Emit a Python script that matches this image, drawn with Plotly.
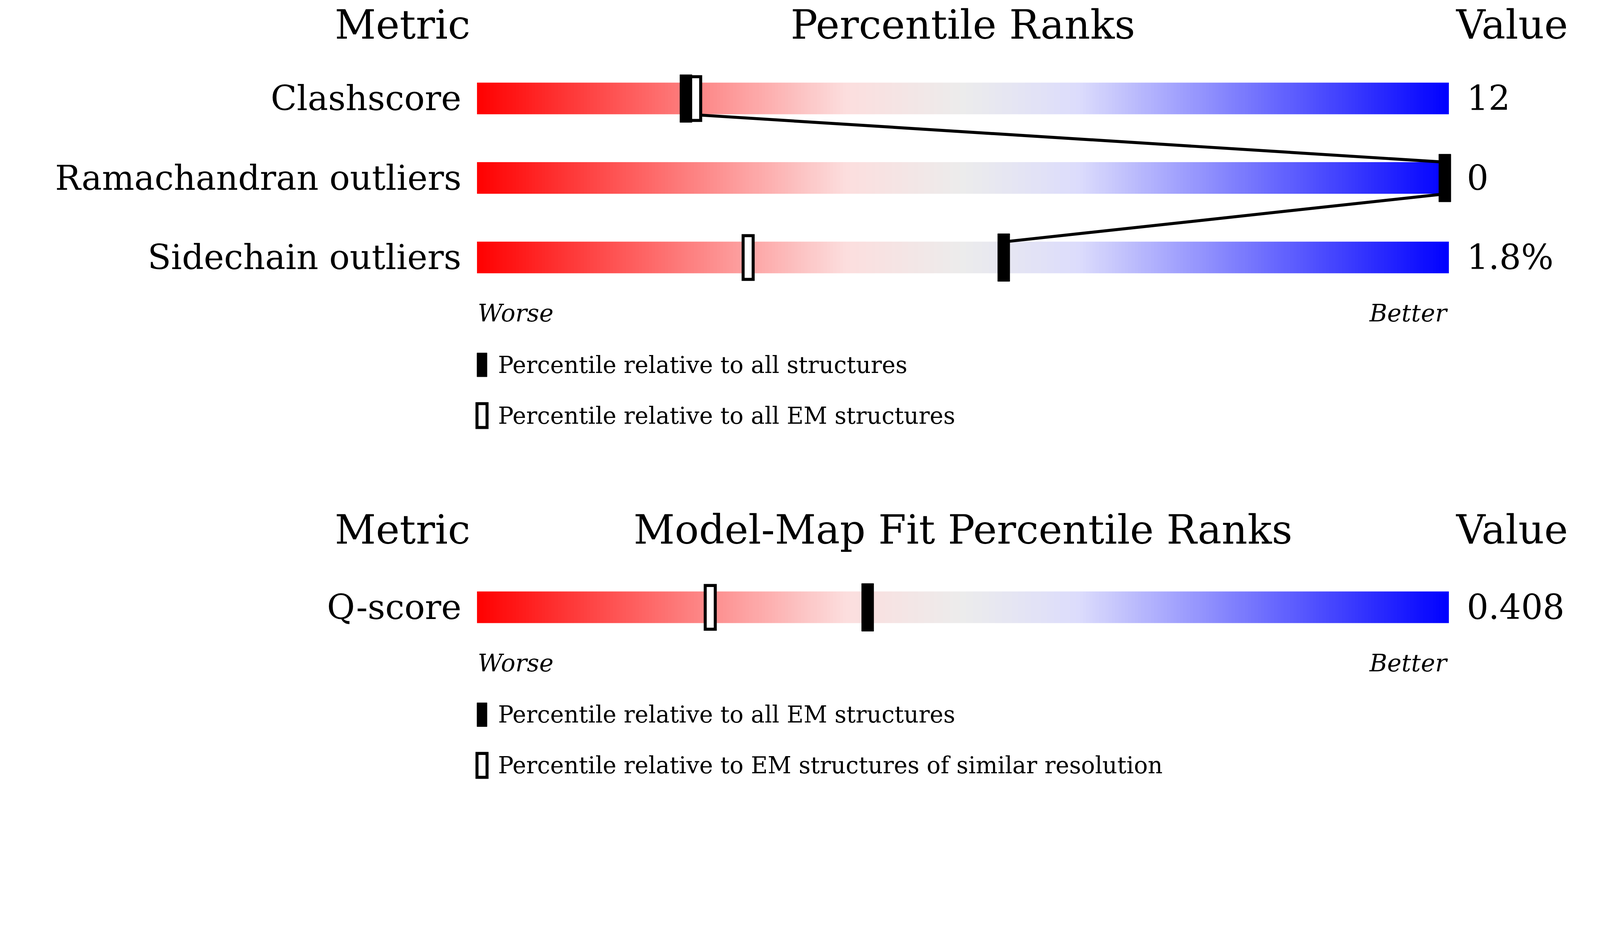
import numpy as np
import plotly.graph_objects as go

W, H = 4030, 1995
S = W/1568
metrics1 = ["Clashscore", "Ramachandran outliers", "Sidechain outliers"]
values1 = ["12", "0", "1.8%"]
pct_all1 = [21.5, 100, 54.2]
pct_em1 = [22.5, None, 27.9]
row_y1 = [96, 176, 256]

metrics2 = ["Q-score"]
values2 = ["0.408"]
pct_all2 = [40.2]
pct_em2 = [24.0]
row_y2 = [608]

legend1 = ["Percentile relative to all structures", "Percentile relative to all EM structures"]
legend2 = ["Percentile relative to all EM structures", "Percentile relative to EM structures of similar resolution"]

FONT = "DejaVu Serif"
cs = [[0, "rgb(255,0,0)"], [0.38, "rgb(252,222,222)"], [0.5, "rgb(236,236,236)"],
      [0.62, "rgb(220,220,252)"], [1, "rgb(0,0,255)"]]

fig = go.Figure()
xe = np.linspace(0, 100, 301)
zrow = [list((xe[:-1] + xe[1:]) / 2)]
shapes, ann = [], []
def txt(x, y, t, size, anchor="left", italic=False):
    ann.append(dict(x=x, y=y, xref="x", yref="y", text=t, showarrow=False, xanchor=anchor,
                    yanchor="middle", font=dict(family=FONT, size=size*S, color="black",
                                                style="italic" if italic else "normal")))
def u(px):  # display px -> x units
    return px / 968 * 100

for rows, names, vals, pa, pe, head, top, leg in [
    (row_y1, metrics1, values1, pct_all1, pct_em1, "Percentile Ranks", 22, legend1),
    (row_y2, metrics2, values2, pct_all2, pct_em2, "Model-Map Fit Percentile Ranks", 530, legend2)]:
    txt(u(-472+398), top, "Metric", 40, "center")
    txt(50, top, head, 40, "center")
    txt(u(1503-472), top, "Value", 40, "center")
    for y, n, v in zip(rows, names, vals):
        fig.add_trace(go.Heatmap(x=xe, y=[y-16, y+16], z=zrow, colorscale=cs, zmin=0, zmax=100,
                                 showscale=False, hoverinfo="skip"))
        txt(u(-15), y, n, 34, "right")
        txt(u(985), y, v, 34, "left")
    for y, p in zip(rows, pe):
        if p is not None:
            shapes.append(dict(type="rect", xref="x", yref="y", x0=p-u(5), x1=p+u(5), y0=y-22, y1=y+22,
                               fillcolor="white", line=dict(color="black", width=3*S)))
    for y, p in zip(rows, pa):
        x0, x1 = (p-u(6), p+u(6)) if p < 100 else (p-u(10), p+u(2))
        shapes.append(dict(type="rect", xref="x", yref="y", x0=x0, x1=x1,
                           y0=y-24, y1=y+24, fillcolor="black", line=dict(color="black", width=1)))
    if len(rows) > 1:
        fig.add_trace(go.Scatter(x=[pa[0]+u(4), pa[1]-u(4), pa[1]-u(4), pa[2]+u(2)],
                                 y=[rows[0]+16, rows[1]-16, rows[1]+16, rows[2]-16],
                                 mode="lines", line=dict(color="black", width=3*S), hoverinfo="skip"))
    yb = rows[-1] + 56
    txt(0, yb, "Worse", 24, "left", True)
    txt(100, yb, "Better", 24, "right", True)
    for k, lt in enumerate(leg):
        ly = yb + 52 + k * 51
        shapes.append(dict(type="rect", xref="x", yref="y", x0=0, x1=u(10), y0=ly-12, y1=ly+12,
                           fillcolor="black" if k == 0 else "white", line=dict(color="black", width=3*S if k else 1)))
        txt(u(20), ly, lt, 23, "left")

fig.update_layout(width=W, height=H, margin=dict(l=0, r=0, t=0, b=0),
                  plot_bgcolor="white", paper_bgcolor="white", showlegend=False,
                  shapes=shapes, annotations=ann,
                  xaxis=dict(range=[-472/968*100, (1568-472)/968*100], visible=False, fixedrange=True),
                  yaxis=dict(range=[784, 0], visible=False, fixedrange=True))
fig.write_html("out.html")
